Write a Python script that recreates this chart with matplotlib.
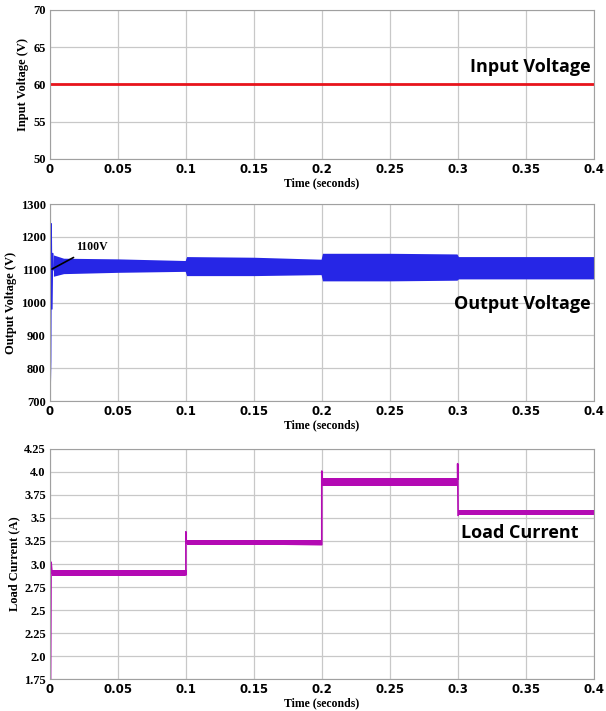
import matplotlib
matplotlib.use("Agg")
import matplotlib.pyplot as plt

# ---- data ----
x_ticks = [0, 0.05, 0.1, 0.15, 0.2, 0.25, 0.3, 0.35, 0.4]
x_tick_labels = ["0", "0.05", "0.1", "0.15", "0.2", "0.25", "0.3", "0.35", "0.4"]

# input voltage
vin_t = [0.0, 0.4]
vin_v = [60, 60]
vin_ticks = [50, 55, 60, 65, 70]

# output voltage: envelope of the ripple band
vout_t = [0.0025, 0.01, 0.05, 0.0995, 0.1005, 0.15, 0.1995, 0.2005, 0.25, 0.2995, 0.3005, 0.35, 0.4]
vout_hi = [1145, 1135, 1133, 1128, 1140, 1138, 1132, 1150, 1150, 1148, 1140, 1140, 1140]
vout_lo = [1080, 1088, 1092, 1095, 1082, 1082, 1085, 1066, 1066, 1068, 1072, 1072, 1072]
# start-up transient
vout_start_t = [0.0003, 0.0006, 0.001, 0.0015, 0.002, 0.0025]
vout_start_v = [750, 820, 1240, 980, 1150, 1100]
vout_ticks = [700, 800, 900, 1000, 1100, 1200, 1300]

# load current: envelope per load step
il_t = [0.0015, 0.0995, 0.1005, 0.1995, 0.2005, 0.2995, 0.3005, 0.4]
il_hi = [2.94, 2.93, 3.26, 3.25, 3.93, 3.92, 3.59, 3.59]
il_lo = [2.87, 2.88, 3.21, 3.21, 3.85, 3.86, 3.53, 3.53]
# step transients
il_edges_t = [0.0004, 0.0008, 0.0015, 0.1, 0.1, 0.1003, 0.2, 0.2, 0.2003, 0.3, 0.3, 0.3003]
il_edges_v = [1.75, 3.02, 2.90, 2.88, 3.35, 3.23, 3.21, 4.01, 3.89, 3.92, 4.09, 3.53]
il_ticks = [1.75, 2.0, 2.25, 2.5, 2.75, 3.0, 3.25, 3.5, 3.75, 4.0, 4.25]
il_tick_labels = ["1.75", "2.0", "2.25", "2.5", "2.75", "3.0", "3.25", "3.5", "3.75", "4.0", "4.25"]

serif = {"family": "Liberation Serif", "weight": "bold"}
sans = {"family": "Open Sans", "weight": "bold"}

fig = plt.figure(figsize=(6.06, 7.11), dpi=100)
ax1 = fig.add_axes([0.0825, 0.7764, 0.897, 0.2096])
ax2 = fig.add_axes([0.0825, 0.436, 0.897, 0.277])
ax3 = fig.add_axes([0.0825, 0.045, 0.897, 0.3235])


def style(ax, yticks, ylabels, ylabel):
    ax.set_xlim(0, 0.4)
    ax.set_xticks(x_ticks)
    ax.set_xticklabels(x_tick_labels, fontdict={"family": "DejaVu Sans", "weight": "bold", "size": 8.5})
    ax.set_ylim(yticks[0], yticks[-1])
    ax.set_yticks(yticks)
    ax.set_yticklabels(ylabels, fontdict=dict(serif, size=9))
    ax.set_xlabel("Time (seconds)", fontdict=dict(serif, size=8.5), labelpad=1)
    ax.set_ylabel(ylabel, fontdict=dict(serif, size=9), labelpad=3)
    ax.grid(True, color="#c8c8c8", linewidth=0.9)
    ax.set_axisbelow(True)
    ax.tick_params(length=0, pad=3)
    for s in ax.spines.values():
        s.set_color("#a0a0a0")
        s.set_linewidth(0.8)


# panel 1
ax1.plot(vin_t, vin_v, color="#e8141c", linewidth=2)
style(ax1, vin_ticks, [str(v) for v in vin_ticks], "Input Voltage (V)")
ax1.text(0.398, 62.4, "Input Voltage", ha="right", va="center", fontdict=dict(sans, size=13))

# panel 2
ax2.fill_between(vout_t, vout_lo, vout_hi, color="#2626e6", linewidth=0)
ax2.plot(vout_start_t, vout_start_v, color="#2626e6", linewidth=0.8)
style(ax2, vout_ticks, [str(v) for v in vout_ticks], "Output Voltage (V)")
ax2.text(0.398, 995, "Output Voltage", ha="right", va="center", fontdict=dict(sans, size=13))
ax2.annotate("1100V", xy=(0.0015, 1102), xytext=(0.0195, 1168), ha="left", va="center",
             fontsize=8.5, fontfamily="Liberation Serif", fontweight="bold",
             arrowprops=dict(arrowstyle="-", color="black", linewidth=1.2, shrinkA=2, shrinkB=0))

# panel 3
ax3.fill_between(il_t, il_lo, il_hi, step="post", color="#b40ab4", linewidth=0)
ax3.plot(il_edges_t, il_edges_v, color="#b40ab4", linewidth=1.2)
style(ax3, il_ticks, il_tick_labels, "Load Current (A)")
ax3.text(0.389, 3.34, "Load Current", ha="right", va="center", fontdict=dict(sans, size=13))

fig.savefig("out.png", dpi=100)
